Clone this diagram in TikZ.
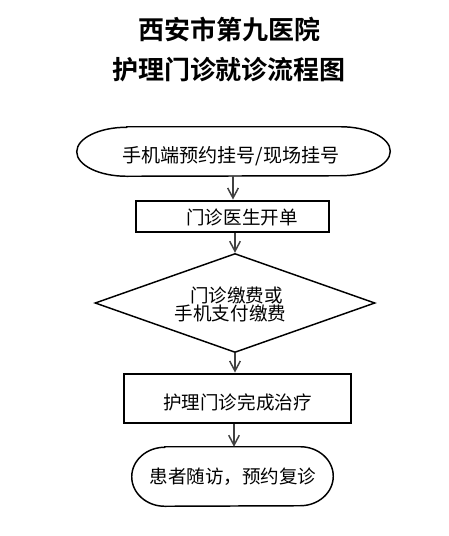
\documentclass[tikz,border=0pt]{standalone}
\usepackage{fontspec}
\newfontfamily\cjk{Noto Sans CJK SC}
\newfontfamily\cjkb{Noto Sans CJK SC Bold}
\usetikzlibrary{shapes.geometric,arrows.meta,calc}
\begin{document}
\begin{tikzpicture}[x=0.75pt,y=-0.75pt,
  titletext/.style={font=\cjkb\fontsize{19.5pt}{22pt}\selectfont,text=black,inner sep=0pt},
  bodytext/.style={font=\cjk\fontsize{13.9pt}{16pt}\selectfont,text=black,inner sep=0pt},
  thickbox/.style={draw=black,line width=2.2pt,inner sep=0pt},
  thinline/.style={draw=black,line width=1.1pt},
  flow/.style={draw=black!75,line width=1.1pt,-{Straight Barb[length=7.5pt,width=8pt,line width=1.1pt]}}
]
\useasboundingbox (0,0) rectangle (449,536);
\fill[white] (0,0) rectangle (449,536);
% titles
\node[titletext] (t1) at (229,30) {西安市第九医院};
\node[titletext] (t2) at (229,70) {护理门诊就诊流程图};
% start ellipse-stadium
\node[inner sep=0pt,minimum width=234.75pt,minimum height=36.75pt] (start) at (233.5,151.5) {};
\draw[thinline] ($(start.north west)+(50,0)$) -- ($(start.north east)+(-50,0)$)
  arc[start angle=90,end angle=-90,x radius=37.5pt,y radius=18.375pt]
  -- ($(start.south west)+(50,0)$)
  arc[start angle=270,end angle=90,x radius=37.5pt,y radius=18.375pt] -- cycle;
\node[bodytext,font=\cjk\fontsize{14.3pt}{16pt}\selectfont] (starttxt) at (231,156) {手机端预约挂号/现场挂号};
% box 1
\node[thickbox,minimum width=144.75pt,minimum height=23.25pt] (box1) at (232.5,216.5) {};
\node[bodytext] (box1txt) at (242,217) {门诊医生开单};
% diamond
\node[shape=diamond,thinline,inner sep=0pt,aspect=2.8,minimum width=210pt,minimum height=74.25pt] (dia) at (235,303) {};
\node[bodytext] (dia1) at (236.5,295) {门诊缴费或};
\node[bodytext] (dia2) at (230.5,313) {手机支付缴费};
% box 2
\node[thickbox,minimum width=170.25pt,minimum height=36.75pt] (box2) at (237.5,398.5) {};
\node[bodytext] (box2txt) at (237.5,402) {护理门诊完成治疗};
% end stadium
\node[inner sep=0pt,minimum width=150.75pt,minimum height=44.25pt] (fin) at (232.5,476.5) {};
\draw[thinline] ($(fin.north west)+(33,0)$) -- ($(fin.north east)+(-33,0)$)
  arc[start angle=90,end angle=-90,x radius=24.75pt,y radius=22.125pt]
  -- ($(fin.south west)+(33,0)$)
  arc[start angle=270,end angle=90,x radius=24.75pt,y radius=22.125pt] -- cycle;
\node[bodytext] (fintxt) at (233,477) {患者随访，预约复诊};
% arrows
\draw[flow] (start.south -| 233,0) -- (box1.north -| 233,0);
\draw[flow] (box1.south -| 235,0) -- (dia.north);
\draw[flow] (dia.south) -- (box2.north -| 235,0);
\draw[flow] (box2.south -| 234,0) -- (fin.north -| 234,0);
\end{tikzpicture}
\end{document}
